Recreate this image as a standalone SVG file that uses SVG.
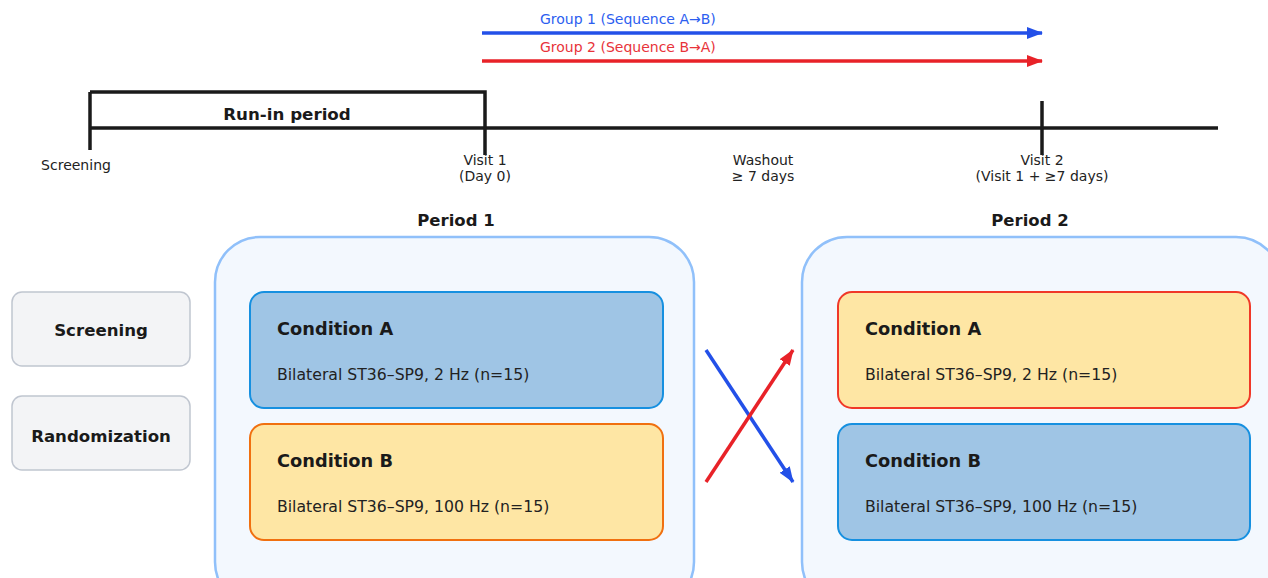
<svg xmlns="http://www.w3.org/2000/svg" width="1268" height="578" viewBox="0 0 1268 578">
<defs>
<marker id="abL" markerWidth="16" markerHeight="12" refX="15" refY="6" orient="auto" markerUnits="userSpaceOnUse"><path d="M0,0 L16,6 L0,12 Z" fill="#2350e8"/></marker>
<marker id="arL" markerWidth="16" markerHeight="12" refX="15" refY="6" orient="auto" markerUnits="userSpaceOnUse"><path d="M0,0 L16,6 L0,12 Z" fill="#e82228"/></marker>
</defs>
<style>
text{font-family:"DejaVu Sans","Noto Sans",sans-serif;fill:#1a1a1a}
.small{font-size:14px;fill:#222}
.bold{font-weight:bold}
.tl{stroke:#1a1a1a;stroke-width:3.5;fill:none}
.period{fill:#f3f8fe;stroke:#90c0fa;stroke-width:2.5}
.side{fill:#f3f4f6;stroke:#c0c6d0;stroke-width:1.5}
.blue{fill:#9fc5e5;stroke:#1690e0;stroke-width:2}
.yel{fill:#fee6a4;stroke-width:2}
.ct{font-size:17.8px;font-weight:bold}
.cs{font-size:15.7px;fill:#222}
</style>
<g id="timeline">
<line class="tl" x1="90" y1="128" x2="1218" y2="128"/>
<line class="tl" x1="90" y1="92" x2="90" y2="150"/>
<polyline class="tl" points="90,92 485,92 485,155"/>
<line class="tl" x1="1042" y1="101" x2="1042" y2="155"/>
<text x="287" y="120" text-anchor="middle" class="bold" font-size="16.7">Run-in period</text>
<text x="76" y="170" text-anchor="middle" class="small">Screening</text>
<text x="485" y="165" text-anchor="middle" class="small">Visit 1</text>
<text x="485" y="181" text-anchor="middle" class="small">(Day 0)</text>
<text x="763" y="165" text-anchor="middle" class="small">Washout</text>
<text x="763" y="181" text-anchor="middle" class="small">≥ 7 days</text>
<text x="1042" y="165" text-anchor="middle" class="small">Visit 2</text>
<text x="1042" y="181" text-anchor="middle" class="small">(Visit 1 + ≥7 days)</text>
</g>
<g id="groups">
<text x="540" y="24" font-size="14" style="fill:#2c5ef0">Group 1 (Sequence A→B)</text>
<text x="540" y="52" font-size="14" style="fill:#e8333a">Group 2 (Sequence B→A)</text>
</g>
<g id="period1">
<text x="456" y="226" text-anchor="middle" class="bold" font-size="16.5">Period 1</text>
<rect class="period" x="215" y="237" width="479" height="370" rx="45"/>
</g>
<g id="period2">
<text x="1030" y="226" text-anchor="middle" class="bold" font-size="16.5">Period 2</text>
<rect class="period" x="802" y="237" width="479" height="370" rx="45"/>
</g>
<g id="screening">
<rect class="side" x="12" y="292" width="178" height="74" rx="10"/>
<text x="101" y="336" text-anchor="middle" class="bold" font-size="16.6">Screening</text>
</g>
<g id="randomization">
<rect class="side" x="12" y="396" width="178" height="74" rx="10"/>
<text x="101" y="442" text-anchor="middle" class="bold" font-size="16.6">Randomization</text>
</g>
<g id="p1-condA">
<rect class="blue" x="250" y="292" width="413" height="116" rx="14"/>
<text x="277" y="335" class="ct">Condition A</text>
<text x="277" y="380" class="cs">Bilateral ST36–SP9, 2 Hz (n=15)</text>
</g>
<g id="p1-condB">
<rect class="yel" stroke="#f07010" x="250" y="424" width="413" height="116" rx="14"/>
<text x="277" y="467" class="ct">Condition B</text>
<text x="277" y="512" class="cs">Bilateral ST36–SP9, 100 Hz (n=15)</text>
</g>
<g id="p2-condA">
<rect class="yel" stroke="#f03828" x="838" y="292" width="412" height="116" rx="14"/>
<text x="865" y="335" class="ct">Condition A</text>
<text x="865" y="380" class="cs">Bilateral ST36–SP9, 2 Hz (n=15)</text>
</g>
<g id="p2-condB">
<rect class="blue" x="838" y="424" width="412" height="116" rx="14"/>
<text x="865" y="467" class="ct">Condition B</text>
<text x="865" y="512" class="cs">Bilateral ST36–SP9, 100 Hz (n=15)</text>
</g>
<g id="connectors">
<line x1="482" y1="33" x2="1042" y2="33" stroke="#2350e8" stroke-width="3.5" marker-end="url(#abL)"/>
<line x1="482" y1="61" x2="1042" y2="61" stroke="#e82228" stroke-width="3.5" marker-end="url(#arL)"/>
<line x1="706" y1="350" x2="793" y2="482" stroke="#2350e8" stroke-width="3.5" marker-end="url(#abL)"/>
<line x1="706" y1="482" x2="793" y2="350" stroke="#e82228" stroke-width="3.5" marker-end="url(#arL)"/>
</g>
</svg>
